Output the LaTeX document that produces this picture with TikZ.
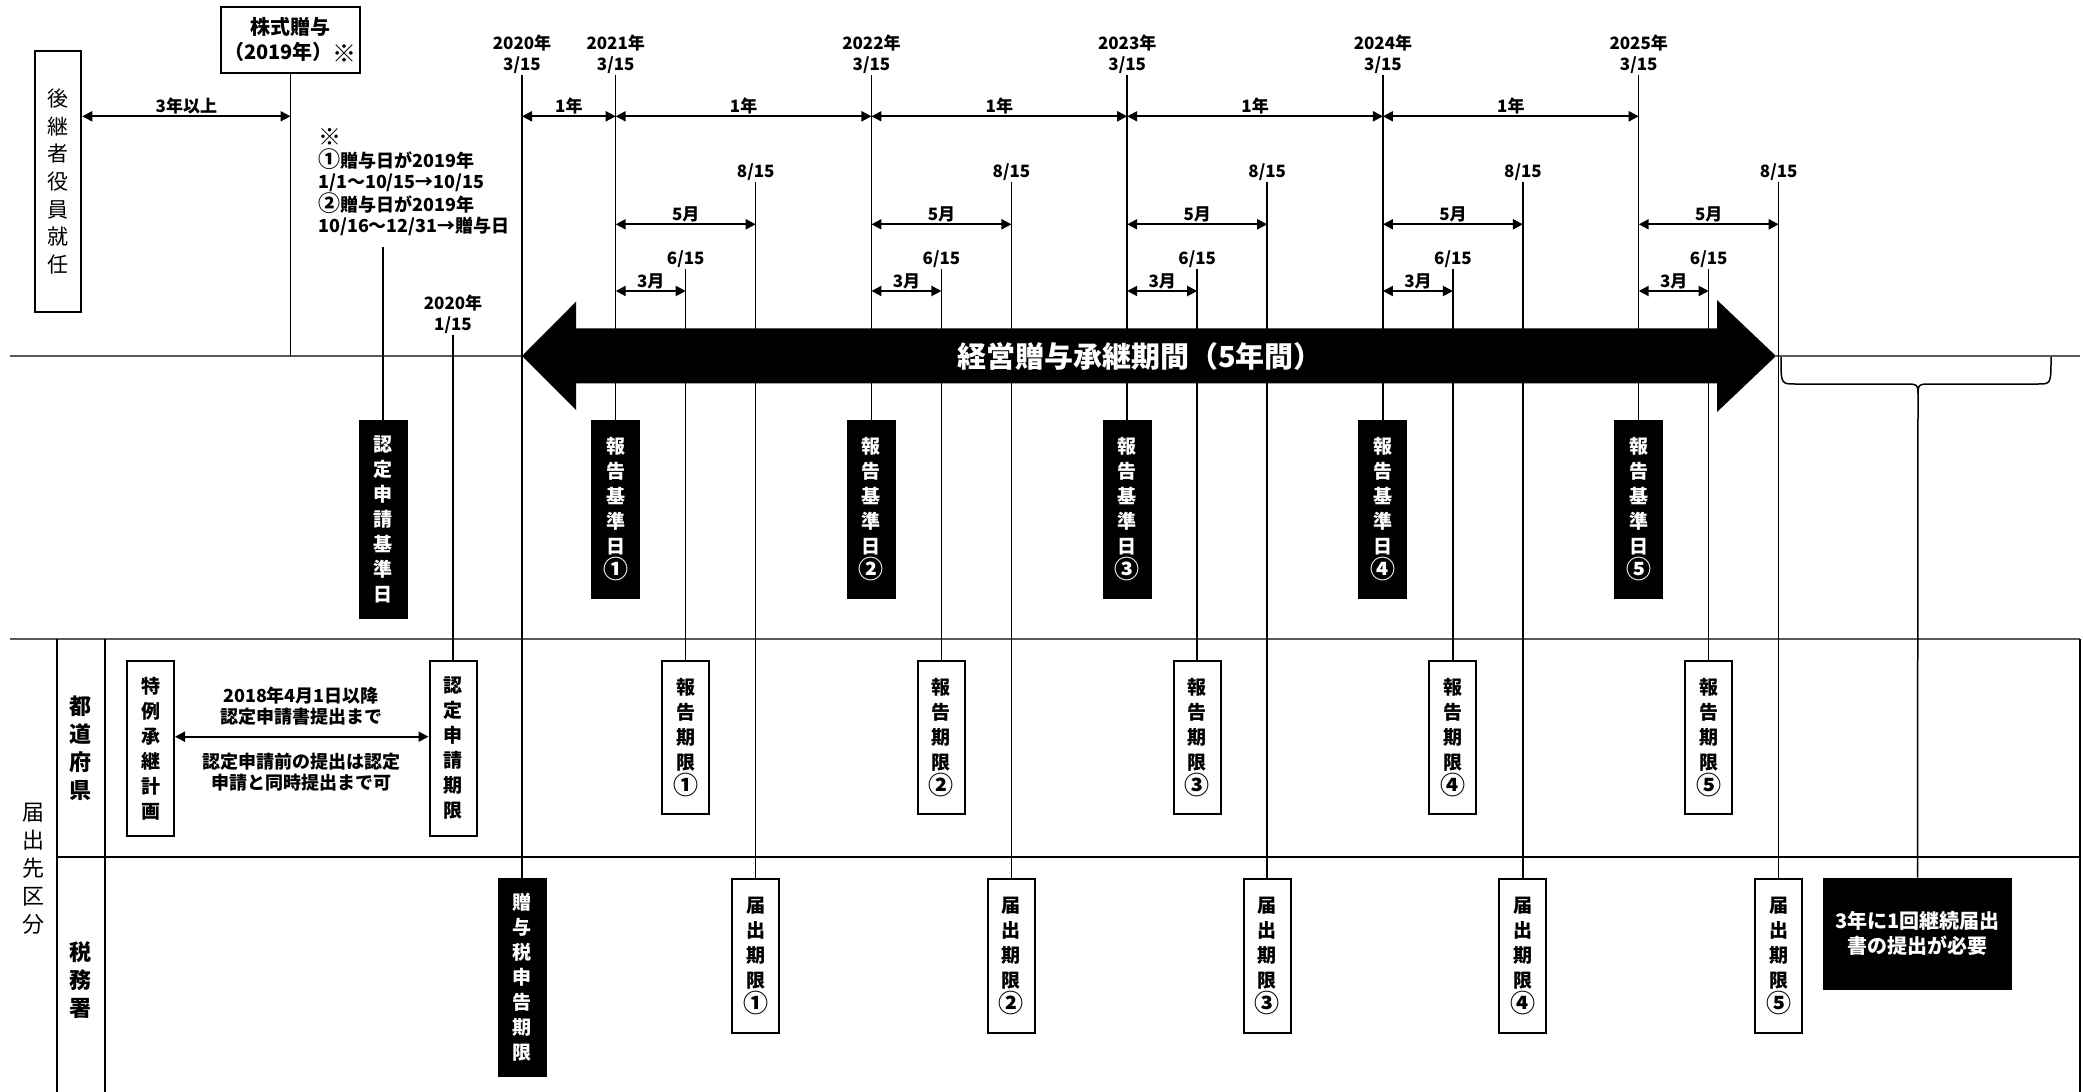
\documentclass[tikz,border=0pt]{standalone}
\usepackage{fontspec}
\setmainfont{Noto Sans CJK JP}
\usetikzlibrary{arrows.meta}
\newcommand\maru[1]{{\fontsize{25}{25}\selectfont #1}}
\tikzset{
  >={Triangle[length=10pt,width=10pt]},
  lbl/.style={font=\bfseries\fontsize{17}{21}\selectfont, inner sep=1pt, align=center},
  rowlbl/.style={font=\bfseries\fontsize{22}{28}\selectfont, inner sep=0pt, align=center},
  vbox/.style={draw, line width=2pt, fill=white, minimum width=47pt, inner sep=0pt,
    align=center, font=\bfseries\fontsize{19}{25}\selectfont},
  bbox/.style={vbox, fill=black, text=white},
  tick/.style={line width=1.5pt},
  span/.style={<->, line width=2pt},
}
\begin{document}
\begin{tikzpicture}[x=1pt,y=-1pt]
\useasboundingbox (0,0) rectangle (2083,1092);
% table of offices
\draw[line width=2pt, black!65] (10,639) -- (2080,639);
\draw[line width=2pt] (57,857) -- (2080,857);
\draw[line width=2pt] (57,639) -- (57,1092);
\draw[line width=2pt] (104.5,639) -- (104.5,1092);
\draw[line width=2pt] (2080,639) -- (2080,1092);
\node[rowlbl, font=\mdseries\fontsize{22}{28}\selectfont] (todoke) at (33,869) {届\\出\\先\\区\\分};
\node[rowlbl] (pref) at (80.5,748) {都\\道\\府\\県};
\node[rowlbl] (tax) at (80.5,980) {税\\務\\署};
% timeline
\draw[line width=2pt, black!65] (10,356) -- (522,356);
\draw[line width=2pt, black!65] (1776,356) -- (2080,356);
% before the period
\node[vbox, minimum width=46.5pt, minimum height=261.6pt,
  font=\mdseries\fontsize{21}{27.7}\selectfont] (yakuin) at (58,181.5) {後\\継\\者\\役\\員\\就\\任};
\node[vbox, minimum width=139pt, minimum height=66pt, font=\bfseries\fontsize{20}{25}\selectfont]
  (zoyo) at (290.5,39.7) {株式贈与\\（2019年）\raisebox{-3pt}{\fontsize{24}{25}\selectfont ※}};
\draw[tick] (zoyo.south) -- (zoyo.south |- 0,356);
\draw[span] (yakuin.east |- 0,116.3) -- node[lbl,above]{3年以上} (zoyo.south |- 0,116.3);
\node[lbl, font=\bfseries\fontsize{18}{21.3}\selectfont, align=left, anchor=west, inner sep=0pt]
  (note) at (318,182.5)
  {{\fontsize{23}{21}\selectfont ※}\\{\fontsize{22}{21}\selectfont ①}贈与日が2019年\\1/1～10/15→10/15\\{\fontsize{22}{21}\selectfont ②}贈与日が2019年\\10/16～12/31→贈与日};
\coordinate (kt) at (383,246.7);
\node[bbox, minimum height=197pt, anchor=north] (kijun) at (383,420) {認\\定\\申\\請\\基\\準\\日};
\draw[tick] (kt) -- (kijun.north);
\node[lbl] (y15) at (453,314) {2020年\\1/15};
\node[vbox, minimum height=175pt, anchor=north] (shinsei) at (453,660) {認\\定\\申\\請\\期\\限};
\draw[tick] (y15.south) -- (shinsei.north);
\node[vbox, minimum height=175pt, anchor=north] (keikaku) at (150.5,660) {特\\例\\承\\継\\計\\画};
\draw[span] (keikaku.east |- 0,736.7) -- (shinsei.west |- 0,736.7);
\node[lbl, font=\bfseries\fontsize{18}{21}\selectfont] (made) at (301,706) {2018年4月1日以降\\認定申請書提出まで};
\node[lbl, font=\bfseries\fontsize{18}{21}\selectfont] (kano) at (301,772) {認定申請前の提出は認定\\申請と同時提出まで可};
% 2020/3/15
\node[lbl] (y0) at (522,54) {2020年\\3/15};
\node[bbox, minimum height=197pt, anchor=north] (zeishin) at (522,877.7) {贈\\与\\税\\申\\告\\期\\限};
\draw[tick] (y0.south) -- (y0.south |- zeishin.north);
\coordinate (a0) at (522,116.3);
% five years
\foreach \k/\c [remember=\k as \j (initially 0)] in {1/①,2/②,3/③,4/④,5/⑤}{
  \pgfmathsetmacro\x{615.7+255.75*(\k-1)}
  \pgfmathtruncatemacro\yr{2020+\k}
  \node[lbl] (y\k) at (\x,54) {\yr 年\\3/15};
  \node[bbox, minimum height=177pt, anchor=north] (rb\k) at (\x,420) {報\\告\\基\\準\\日\\\maru{\c}};
  \draw[tick] (y\k.south) -- (y\k.south |- rb\k.north);
  \coordinate (a\k) at (\x,116.3);
  \draw[span] (a\j) -- node[lbl,above]{1年} (a\k);
  \node[lbl] (r\k) at (\x+70,259.3) {6/15};
  \node[vbox, minimum height=153pt, anchor=north] (rk\k) at (\x+70,660) {報\\告\\期\\限\\\maru{\c}};
  \draw[tick] (r\k.south) -- (r\k.south |- rk\k.north);
  \node[lbl] (h\k) at (\x+140,172.3) {8/15};
  \node[vbox, minimum height=154pt, anchor=north] (td\k) at (\x+140,877.7) {届\\出\\期\\限\\\maru{\c}};
  \draw[tick] (h\k.south) -- (h\k.south |- td\k.north);
  \draw[span] (y\k.south |- 0,224.3) -- node[lbl,above]{5月} (h\k.south |- 0,224.3);
  \draw[span] (y\k.south |- 0,291) -- node[lbl,above]{3月} (r\k.south |- 0,291);
}
% the five year period
\fill (522,356) -- (576,301.7) -- (576,328.3) -- (1717,328.3) -- (1717,300) -- (1776,356)
  -- (1717,412) -- (1717,383.3) -- (576,383.3) -- (576,410) -- cycle;
\node[text=white, font=\bfseries\fontsize{29}{30}\selectfont] (kikan) at (1140,356) {経営贈与承継期間（5年間）};
% after the period
\draw[line width=1.5pt] (1781,357) .. controls (1781,384) .. (1795,384) -- (1904,384)
  .. controls (1918,384) .. (1918,397) .. controls (1918,384) .. (1932,384) -- (2038,384)
  .. controls (2051,384) .. (2051,357);
\coordinate (bt) at (1918,397);
\node[bbox, minimum width=187pt, minimum height=110pt, anchor=north,
  font=\bfseries\fontsize{20}{25}\selectfont] (keizoku) at (1917.5,877.7) {3年に1回継続届出\\書の提出が必要};
\draw[tick] (bt) -- (keizoku.north);
\end{tikzpicture}
\end{document}
